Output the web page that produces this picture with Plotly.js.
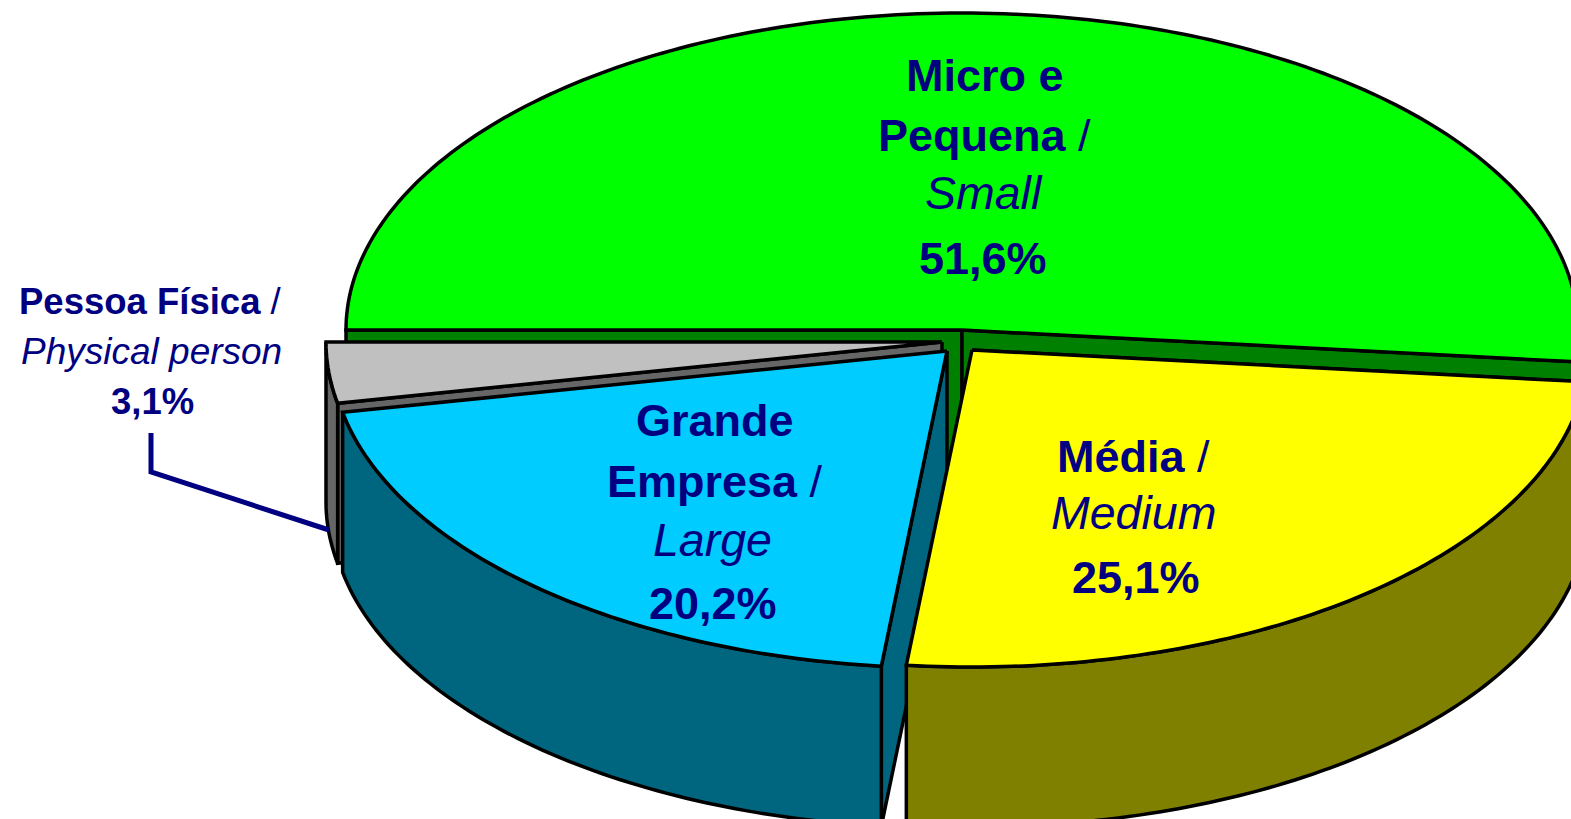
<!DOCTYPE html>
<html><head><meta charset="utf-8">
<script src="https://cdn.plot.ly/plotly-3.0.1.min.js"></script>
<style>html,body{margin:0;padding:0;background:#fff;overflow:hidden}#c{width:1571px;height:819px}</style>
</head><body><div id="c"></div><script>
// Data
const categories = ["Micro e Pequena / Small", "Média / Medium", "Grande Empresa / Large", "Pessoa Física / Physical person"];
const shares = [51.6, 25.1, 20.2, 3.1];
const topColors = ["#00FF00", "#FFFF00", "#00CCFF", "#C0C0C0"];
const wallColors = ["#008000", "#808000", "#006680", "#666666"];
// Pie styling: tilted ellipse, extrusion depth, exploded slice origins (paper-space pixels)
const radiusX = 616, radiusY = 317, depth = 160;
const originX = [962, 972, 947, 942];
const originY = [330, 350, 351, 342];
const startAngle = 180; // slices run clockwise from the left edge
const drawOrder = [0, 3, 2, 1];
// Labels
const labelFont = "Liberation Sans, Arial, sans-serif", ink = "#000080";
const labelText = ["<b>Micro e</b>", "<b>Pequena</b> /", "<i>Small</i>", "<b>51,6%</b>",
  "<b>Média</b> /", "<i>Medium</i>", "<b>25,1%</b>",
  "<b>Grande</b>", "<b>Empresa</b> /", "<i>Large</i>", "<b>20,2%</b>",
  "<b>Pessoa Física</b> /", "<i>Physical person</i>", "<b>3,1%</b>"];
const labelX = [985, 984, 983.5, 982.5, 1133.5, 1133.5, 1135.5, 715, 715, 712.5, 713, 150.5, 151.5, 152];
const labelY = [75, 135, 193, 258, 456, 513, 577, 420, 481, 540, 603, 301, 351, 401];
const labelSize = [45, 45, 46.5, 45, 45, 46.5, 45, 45, 45, 46.5, 45, 36.5, 37, 36.5];

const rad = d => d * Math.PI / 180;
const traces = [];
function poly(xs, ys, fill) {
  traces.push({type: "scatter", mode: "lines", x: xs.concat(xs[0]), y: ys.concat(ys[0]),
    fill: "toself", fillcolor: fill, line: {color: "#000", width: 3.5, simplify: false},
    hoverinfo: "skip", showlegend: false});
}
function arc(i, a, b) {
  const xs = [], ys = [], n = Math.max(2, Math.ceil(Math.abs(a - b)));
  for (let k = 0; k <= n; k++) {
    const t = rad(a + (b - a) * k / n);
    xs.push(originX[i] + radiusX * Math.cos(t));
    ys.push(originY[i] - radiusY * Math.sin(t));
  }
  return {xs, ys};
}
function wall(xs, ys, fill) {
  poly(xs.concat(xs.slice().reverse()),
       ys.concat(ys.slice().reverse().map(v => v + depth)), fill);
}
let cumulative = 0;
const spans = shares.map(s => { const a = startAngle - cumulative * 3.6; cumulative += s; return [a, startAngle - cumulative * 3.6]; });
drawOrder.forEach(i => {
  const [a, b] = spans[i], p = arc(i, a, b);
  const cx = originX[i], cy = originY[i];
  const n = p.xs.length - 1;
  if (i === 0) {
    wall([cx, p.xs[0]], [cy, p.ys[0]], wallColors[i]);
    wall([cx, p.xs[n]], [cy, p.ys[n]], wallColors[i]);
  } else {
    wall([cx, p.xs[0]], [cy, p.ys[0]], wallColors[i]);
    wall(p.xs, p.ys, wallColors[i]);
  }
  poly([cx].concat(p.xs), [cy].concat(p.ys), topColors[i]);
});

const annotations = labelText.map((t, i) => ({
  x: labelX[i], y: labelY[i], xref: "x", yref: "y", text: t, showarrow: false,
  xanchor: "center", yanchor: "middle", align: "center",
  font: {family: labelFont, size: labelSize[i], color: ink}
}));
const layout = {
  width: 1571, height: 819, margin: {l: 0, r: 0, t: 0, b: 0},
  paper_bgcolor: "#fff", plot_bgcolor: "rgba(0,0,0,0)", showlegend: false,
  xaxis: {range: [0, 1571], visible: false, fixedrange: true},
  yaxis: {range: [819, 0], visible: false, fixedrange: true},
  annotations,
  shapes: [{type: "path", path: "M151,433 L151,472 L329,530", xref: "x", yref: "y",
    line: {color: ink, width: 5}}]
};
Plotly.newPlot("c", traces, layout, {displayModeBar: false, staticPlot: true});
</script></body></html>
